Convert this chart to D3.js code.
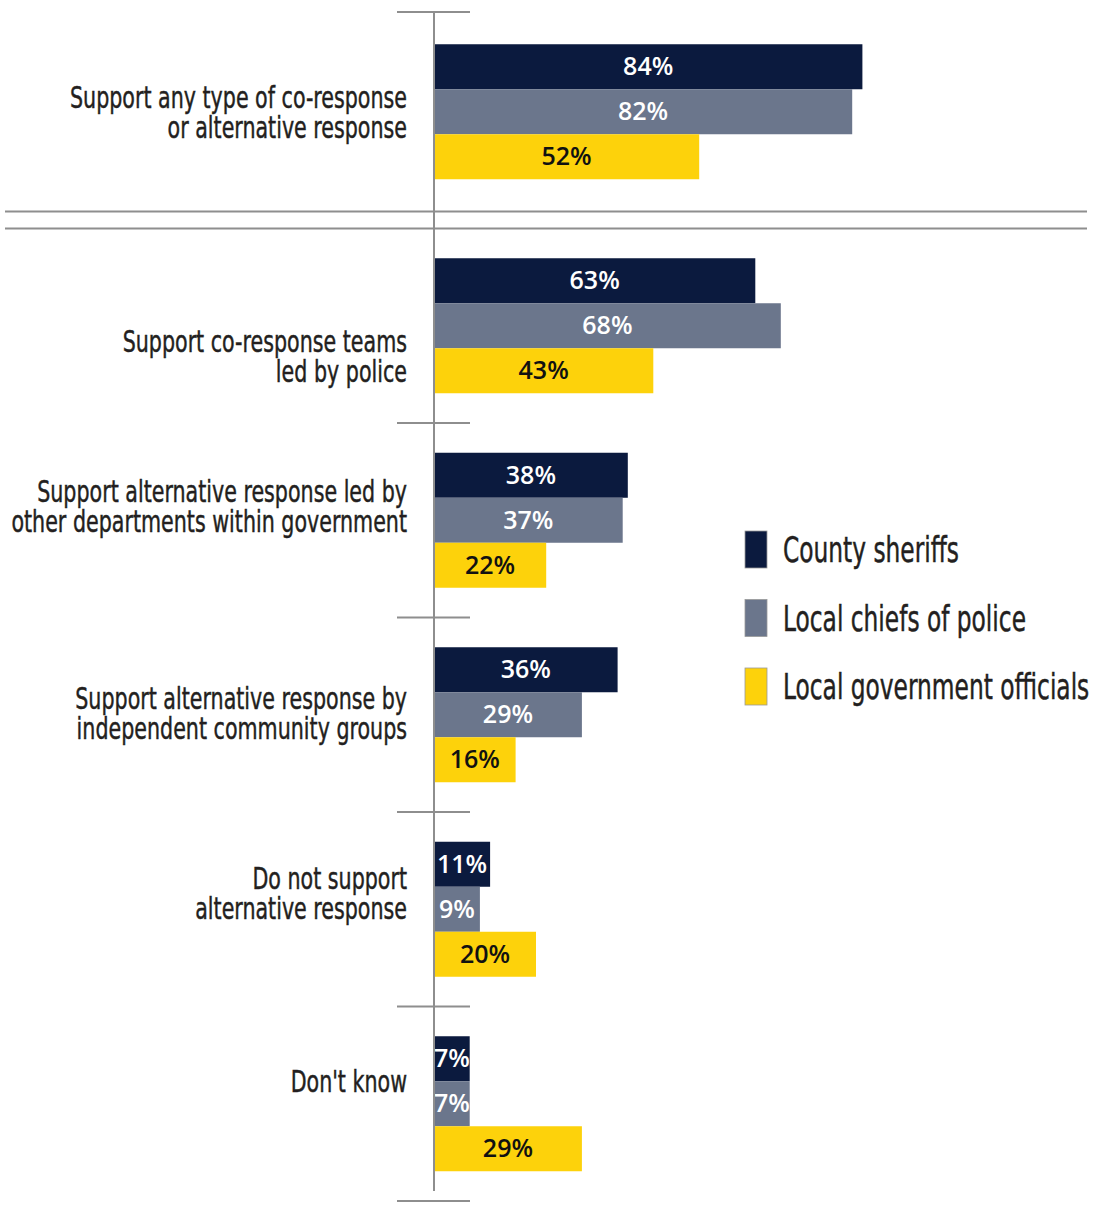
<!DOCTYPE html>
<html>
<head>
<meta charset="utf-8">
<script src="https://cdn.jsdelivr.net/npm/d3@7"></script>
<style>
  html, body { margin: 0; padding: 0; background: #ffffff; }
  svg { display: block; }
  .cat { font-family: "Liberation Sans Narrow", "DejaVu Sans Condensed", "DejaVu Sans", sans-serif; fill: #231f20; stroke: #231f20; stroke-width: 0.45; }
  .val { font-family: "Open Sans", "DejaVu Sans", sans-serif; font-weight: 600; }
</style>
</head>
<body>
<svg id="chart" width="1095" height="1205"></svg>
<script>
// Survey responses on co-response / alternative response, by respondent group
const categories = [
  "Support any type of co-response or alternative response",
  "Support co-response teams led by police",
  "Support alternative response led by other departments within government",
  "Support alternative response by independent community groups",
  "Do not support alternative response",
  "Don't know"
];
const categoryLines = [
  ["Support any type of co-response", "or alternative response"],
  ["Support co-response teams", "led by police"],
  ["Support alternative response led by", "other departments within government"],
  ["Support alternative response by", "independent community groups"],
  ["Do not support", "alternative response"],
  ["Don't know"]
];
const series = ["County sheriffs", "Local chiefs of police", "Local government officials"];
const sheriffs  = [84, 63, 38, 36, 11, 7];
const chiefs    = [82, 68, 37, 29, 9, 7];
const officials = [52, 43, 22, 16, 20, 29];
const seriesValues = [sheriffs, chiefs, officials];

const colors = ["#0b1a3e", "#6b768c", "#fdd20b"];
const labelColors = ["#ffffff", "#ffffff", "#111111"];

const svg = d3.select("#chart");
const axisX = 434;

const x = d3.scaleLinear().domain([0, 100]).range([axisX, axisX + 510]);
const y0 = d3.scaleBand().domain(categories).range([34, 1201]);
const y1 = d3.scaleBand().domain(series).range([0, 135]);

// the headline group sits above a double rule, pulled up slightly
const headShift = -19.5;
const groupTop = (c, i) => y0(c) + (y0.step() - y1.range()[1]) / 2 + (i === 0 ? headShift : 0);
const groupMid = (c, i) => groupTop(c, i) + y1.range()[1] / 2;

const gridColor = "#8e8e8e";

// double rule under the headline group
const b1 = y0(categories[1]);
[b1 - 17, b1].forEach(yy => {
  svg.append("line")
    .attr("x1", 5).attr("x2", 1087)
    .attr("y1", yy).attr("y2", yy)
    .attr("stroke", gridColor).attr("stroke-width", 2);
});

// short separators between groups
const tickYs = [y0.range()[0] - 22].concat(categories.slice(2).map(c => y0(c))).concat([y0.range()[1]]);
tickYs.forEach(yy => {
  svg.append("line")
    .attr("x1", axisX - 37).attr("x2", axisX + 36)
    .attr("y1", yy).attr("y2", yy)
    .attr("stroke", gridColor).attr("stroke-width", 2);
});

// bars
const rows = [];
categories.forEach((c, i) => {
  series.forEach((s, j) => {
    rows.push({ c, i, s, j, v: seriesValues[j][i] });
  });
});

const bars = svg.append("g");
bars.selectAll("rect").data(rows).join("rect")
  .attr("x", x(0))
  .attr("y", d => groupTop(d.c, d.i) + y1(d.s))
  .attr("width", d => x(d.v) - x(0))
  .attr("height", y1.bandwidth())
  .attr("fill", d => colors[d.j]);

bars.selectAll("text").data(rows).join("text")
  .attr("class", "val")
  .attr("x", d => (x(0) + x(d.v)) / 2)
  .attr("y", d => groupTop(d.c, d.i) + y1(d.s) + y1.bandwidth() / 2)
  .attr("dy", "0.34em")
  .attr("text-anchor", "middle")
  .attr("font-size", 25)
  .attr("fill", d => labelColors[d.j])
  .text(d => d.v + "%");

// vertical axis line
svg.append("line")
  .attr("x1", axisX).attr("x2", axisX)
  .attr("y1", tickYs[0]).attr("y2", y0.range()[1] - 10)
  .attr("stroke", gridColor).attr("stroke-width", 2);

// category labels, right-aligned against the axis
const catG = svg.append("g");
const lineH = 30;
const labelSX = 0.74;
// per-group vertical adjustment of the label block
const labelNudge = [0, 30, -15, -2, -17, -23];
categories.forEach((c, i) => {
  const lines = categoryLines[i];
  const mid = groupMid(c, i) + labelNudge[i];
  const first = mid - (lines.length - 1) * lineH / 2 + 11.5;
  const t = catG.append("text")
    .attr("class", "cat")
    .attr("font-size", 31)
    .attr("text-anchor", "end")
    .attr("transform", `translate(407,0) scale(${labelSX},1)`);
  lines.forEach((ln, k) => {
    t.append("tspan").attr("x", 0).attr("y", first + k * lineH).text(ln);
  });
});

// legend
const legend = svg.append("g").attr("transform", "translate(745,531)");
series.forEach((s, j) => {
  const g = legend.append("g").attr("transform", `translate(0,${j * 68.5})`);
  g.append("rect")
    .attr("width", 22).attr("height", 37)
    .attr("fill", colors[j])
    .attr("stroke", "#9a9a9a").attr("stroke-width", 0.8);
  g.append("text")
    .attr("class", "cat")
    .attr("font-size", 36)
    .attr("transform", `translate(38,31) scale(0.72,1)`)
    .text(s);
});
</script>
</body>
</html>
